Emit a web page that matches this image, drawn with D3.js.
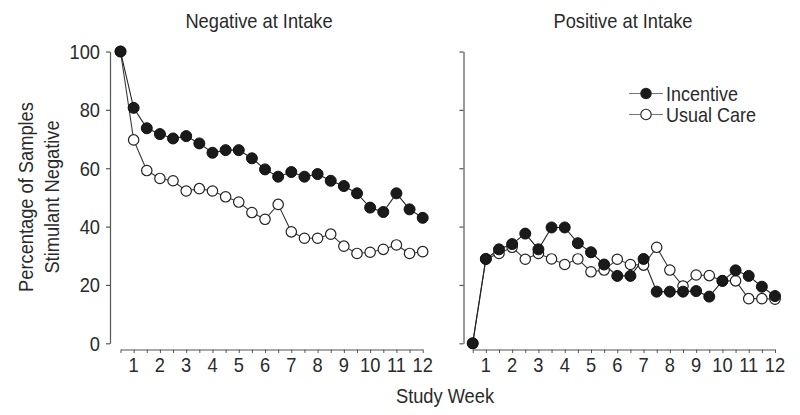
<!DOCTYPE html>
<html><head><meta charset="utf-8">
<script src="https://cdn.jsdelivr.net/npm/d3@7"></script>
<style>
html,body{margin:0;padding:0;background:#fff;}
text{font-family:"Liberation Sans Narrow","Arial Narrow","Liberation Sans",Arial,sans-serif;fill:#2a2a2a;}
</style></head>
<body>
<svg id="chart" width="800" height="415"></svg>
<script>
const weeks = [0.5,1,1.5,2,2.5,3,3.5,4,4.5,5,5.5,6,6.5,7,7.5,8,8.5,9,9.5,10,10.5,11,11.5,12];
const weekLabels = [1,2,3,4,5,6,7,8,9,10,11,12];
const yTicks = [0,20,40,60,80,100];
const panelTitles = ["Negative at Intake","Positive at Intake"];
const seriesNames = ["Incentive","Usual Care"];

const negIncentive = [100,80.7,73.7,71.7,70.2,71.0,68.5,65.3,66.2,66.2,63.4,59.6,57.1,58.7,57.1,58.0,55.7,53.9,51.4,46.5,45.0,51.4,45.9,43.0];
const negUsual     = [100,69.7,59.2,56.5,55.7,52.2,53.0,52.2,50.2,48.4,44.8,42.5,47.6,38.2,36.0,36.0,37.4,33.3,30.8,31.2,32.2,33.7,30.8,31.4];
const posIncentive = [0,28.9,32.2,34.0,37.6,32.2,39.7,39.7,34.3,31.2,27.0,23.1,23.1,28.9,17.7,17.7,17.7,17.9,16.0,21.4,25.0,23.1,19.4,16.2];
const posUsual     = [0,28.9,30.8,32.9,28.8,30.8,28.9,27.0,28.9,24.5,25.1,28.8,27.0,26.8,32.9,25.1,19.6,23.4,23.2,21.4,21.4,15.3,15.3,15.1];

const svg = d3.select("#chart");
const FS = 21;
const SX = 0.87;
const y = d3.scaleLinear().domain([0,100]).range([343.3,51.5]);

// narrow text helper: horizontally compressed text
function ntext(parent, x, yy, str, anchor, size, sx, rot) {
  const g = parent.append("g")
    .attr("transform", `translate(${x},${yy})` + (rot ? ` rotate(${rot})` : "") + ` scale(${sx || SX},1)`);
  g.append("text").attr("x",0).attr("y",0).attr("text-anchor", anchor || "start")
    .attr("font-size", size || FS).text(str);
  return g;
}

const panels = [
  {title: panelTitles[0], inc: negIncentive, usu: negUsual, yAxisX: 110, xRange:[120.5,422.7], titleX: 259, yLabels:true},
  {title: panelTitles[1], inc: posIncentive, usu: posUsual, yAxisX: 463.5, xRange:[472.7,775], titleX: 623, yLabels:false}
];

const axisColor = "#555";

panels.forEach(p => {
  const x = d3.scaleLinear().domain([0.5,12]).range(p.xRange);
  const g = svg.append("g");

  // title
  ntext(g, p.titleX, 28, p.title, "middle");

  // y axis
  const ya = g.append("g").attr("transform", `translate(${p.yAxisX},0)`)
    .call(d3.axisLeft(y).tickValues(yTicks).tickSize(4).tickSizeOuter(0).tickFormat(""));
  ya.select(".domain").attr("stroke", axisColor).attr("stroke-width",1.2);
  ya.selectAll(".tick line").attr("stroke", axisColor).attr("stroke-width",1.2);
  if (p.yLabels) {
    yTicks.forEach(t => ntext(g, p.yAxisX - 10, y(t) + 7.5, String(t), "end"));
  }

  // x axis
  const xa = g.append("g").attr("transform", `translate(0,349.5)`)
    .call(d3.axisBottom(x).tickValues(weeks).tickSize(3.5).tickSizeOuter(0).tickFormat(""));
  xa.select(".domain").attr("stroke", axisColor).attr("stroke-width",1.2);
  xa.selectAll(".tick line").attr("stroke", axisColor).attr("stroke-width",1);
  weekLabels.forEach(w => ntext(g, x(w), 372, String(w), "middle"));

  const line = d3.line().x((d,i) => x(weeks[i])).y(d => y(d));
  g.append("path").datum(p.usu).attr("d", line).attr("fill","none").attr("stroke","#3a3a3a").attr("stroke-width",1.1);
  g.append("path").datum(p.inc).attr("d", line).attr("fill","none").attr("stroke","#222").attr("stroke-width",1.1);

  g.selectAll(".usu").data(p.usu).enter().append("circle").attr("class","usu")
    .attr("cx",(d,i)=>x(weeks[i])).attr("cy",d=>y(d)).attr("r",5.2)
    .attr("fill","#fff").attr("stroke","#222").attr("stroke-width",1.2);
  g.selectAll(".inc").data(p.inc).enter().append("circle").attr("class","inc")
    .attr("cx",(d,i)=>x(weeks[i])).attr("cy",d=>y(d)).attr("r",5.5)
    .attr("fill","#1a1a1a").attr("stroke","#111").attr("stroke-width",1);
});

// y axis label
ntext(svg, 33, 197, "Percentage of Samples", "middle", FS, SX, -90);
ntext(svg, 59, 197, "Stimulant Negative", "middle", FS, SX, -90);

// x axis label
ntext(svg, 445, 403, "Study Week", "middle");

// legend
const lg = svg.append("g");
const legendRows = [{name: seriesNames[0], fill:"#1a1a1a", y:93.5},{name: seriesNames[1], fill:"#fff", y:114.5}];
legendRows.forEach(r => {
  lg.append("line").attr("x1",629).attr("x2",663).attr("y1",r.y).attr("y2",r.y).attr("stroke","#777").attr("stroke-width",1);
  lg.append("circle").attr("cx",646).attr("cy",r.y).attr("r",5.2).attr("fill",r.fill).attr("stroke","#222").attr("stroke-width",1.1);
  ntext(lg, 666, r.y + 7, r.name, "start", 20, 0.9);
});
</script>
</body></html>
